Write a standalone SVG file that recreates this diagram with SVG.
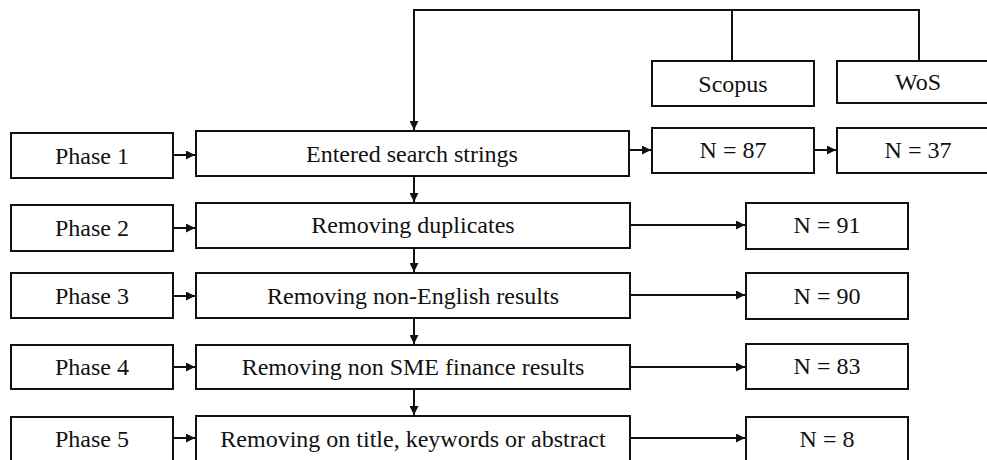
<svg xmlns="http://www.w3.org/2000/svg" width="987" height="460" viewBox="0 0 987 460">
<style>
.box{fill:#fff;stroke:#111;stroke-width:2}
.t{font-family:"Liberation Serif","Times New Roman",serif;font-size:24px;fill:#111;text-anchor:middle}
.c{fill:none;stroke:#111;stroke-width:2}
</style>
<defs>
<marker id="ah" viewBox="0 0 10 10" refX="10" refY="5" markerWidth="4.5" markerHeight="4.5" orient="auto" markerUnits="strokeWidth">
<path d="M0,0 L10,5 L0,10 z" fill="#111"/>
</marker>
</defs>
<rect width="987" height="460" fill="#fff"/>
<g id="connectors">
<polyline class="c" points="919,61 919,10 414,10 414,130" marker-end="url(#ah)"/>
<line class="c" x1="732" y1="10" x2="732" y2="61"/>
<line class="c" x1="173" y1="155" x2="195" y2="155" marker-end="url(#ah)"/>
<line class="c" x1="629" y1="150" x2="651" y2="150" marker-end="url(#ah)"/>
<line class="c" x1="814" y1="150" x2="836" y2="150" marker-end="url(#ah)"/>
<line class="c" x1="173" y1="228" x2="195" y2="228" marker-end="url(#ah)"/>
<line class="c" x1="630" y1="225" x2="745" y2="225" marker-end="url(#ah)"/>
<line class="c" x1="173" y1="296" x2="195" y2="296" marker-end="url(#ah)"/>
<line class="c" x1="630" y1="295" x2="745" y2="295" marker-end="url(#ah)"/>
<line class="c" x1="173" y1="367" x2="195" y2="367" marker-end="url(#ah)"/>
<line class="c" x1="630" y1="367" x2="745" y2="367" marker-end="url(#ah)"/>
<line class="c" x1="173" y1="438" x2="195" y2="438" marker-end="url(#ah)"/>
<line class="c" x1="630" y1="438" x2="745" y2="438" marker-end="url(#ah)"/>
<line class="c" x1="414" y1="176" x2="414" y2="202" marker-end="url(#ah)"/>
<line class="c" x1="414" y1="248" x2="414" y2="272" marker-end="url(#ah)"/>
<line class="c" x1="414" y1="318" x2="414" y2="344" marker-end="url(#ah)"/>
<line class="c" x1="414" y1="389" x2="414" y2="415" marker-end="url(#ah)"/>
</g>
<g id="scopus"><rect class="box" x="652" y="61" width="162" height="45"/><text class="t" x="733" y="92">Scopus</text></g>
<g id="wos"><rect class="box" x="837" y="61" width="163" height="42"/><text class="t" x="918" y="90">WoS</text></g>
<g id="phase1"><rect class="box" x="11" y="133" width="162" height="45"/><text class="t" x="92" y="164">Phase 1</text></g>
<g id="step1"><rect class="box" x="196" y="131" width="433" height="45"/><text class="t" x="412" y="162">Entered search strings</text></g>
<g id="n87"><rect class="box" x="652" y="128" width="162" height="45"/><text class="t" x="733" y="158">N = 87</text></g>
<g id="n37"><rect class="box" x="837" y="128" width="163" height="45"/><text class="t" x="918" y="158">N = 37</text></g>
<g id="phase2"><rect class="box" x="11" y="205" width="162" height="46"/><text class="t" x="92" y="236">Phase 2</text></g>
<g id="step2"><rect class="box" x="196" y="203" width="434" height="45"/><text class="t" x="413" y="233">Removing duplicates</text></g>
<g id="n91"><rect class="box" x="746" y="203" width="162" height="46"/><text class="t" x="827" y="233">N = 91</text></g>
<g id="phase3"><rect class="box" x="11" y="273" width="162" height="45"/><text class="t" x="92" y="304">Phase 3</text></g>
<g id="step3"><rect class="box" x="196" y="273" width="434" height="45"/><text class="t" x="413" y="304">Removing non-English results</text></g>
<g id="n90"><rect class="box" x="746" y="273" width="162" height="46"/><text class="t" x="827" y="304">N = 90</text></g>
<g id="phase4"><rect class="box" x="11" y="345" width="162" height="44"/><text class="t" x="92" y="375">Phase 4</text></g>
<g id="step4"><rect class="box" x="196" y="345" width="434" height="44"/><text class="t" x="413" y="375">Removing non SME finance results</text></g>
<g id="n83"><rect class="box" x="746" y="344" width="162" height="45"/><text class="t" x="827" y="374">N = 83</text></g>
<g id="phase5"><rect class="box" x="11" y="417" width="162" height="48"/><text class="t" x="92" y="447">Phase 5</text></g>
<g id="step5"><rect class="box" x="196" y="416" width="434" height="49"/><text class="t" x="413" y="447">Removing on title, keywords or abstract</text></g>
<g id="n8"><rect class="box" x="746" y="417" width="162" height="48"/><text class="t" x="827" y="447">N = 8</text></g>
</svg>
